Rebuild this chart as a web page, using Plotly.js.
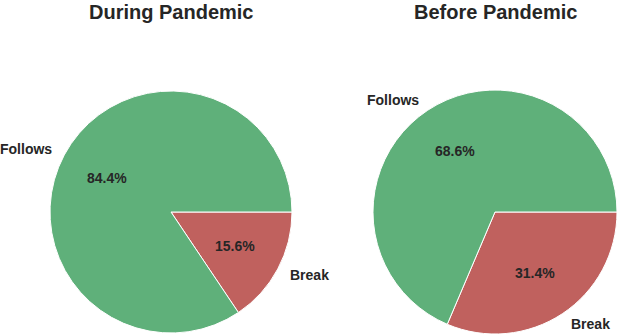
<!DOCTYPE html>
<html>
<head>
<meta charset="utf-8">
<script src="https://cdn.plot.ly/plotly-3.0.1.min.js"></script>
<style>
  html, body { margin: 0; padding: 0; background: #fff; }
  #graph { width: 618px; height: 336px; }
</style>
</head>
<body>
<div id="graph"></div>
<script>
var titles = ['During Pandemic', 'Before Pandemic'];
var labels = ['Follows', 'Break'];
var duringValues = [84.4, 15.6];
var beforeValues = [68.6, 31.4];
var colors = ['#5fb07a', '#c0615e'];

var W = 618, H = 336;
var textColor = '#262626';
var font = 'Liberation Sans, Arial, sans-serif';

// pie boxes in pixels (left, top, size)
var boxes = [
    {left: 50, top: 91, size: 242},
    {left: 373, top: 90, size: 244}
];

var data = [];
var annotations = [];
var allValues = [duringValues, beforeValues];

for (var p = 0; p < 2; p++) {
    var b = boxes[p];
    var domain = {
        x: [b.left / W, (b.left + b.size) / W],
        y: [(H - b.top - b.size) / H, (H - b.top) / H]
    };
    var vals = allValues[p];
    // matplotlib draws counterclockwise from 3 o'clock; in plotly go clockwise with reversed order
    data.push({
        type: 'pie',
        values: vals.slice().reverse(),
        labels: labels.slice().reverse(),
        sort: false,
        direction: 'clockwise',
        rotation: 90,
        textinfo: 'none',
        hoverinfo: 'label+percent',
        marker: {colors: colors.slice().reverse(), line: {color: '#ffffff', width: 1}},
        domain: domain,
        showlegend: false
    });

    var cx = b.left + b.size / 2;
    var cy = b.top + b.size / 2;
    var r = b.size / 2;
    var total = vals.reduce(function (a, c) { return a + c; }, 0);
    var start = 0;
    for (var i = 0; i < vals.length; i++) {
        var frac = vals[i] / total;
        var mid = (start + frac / 2) * 2 * Math.PI;
        start += frac;
        var dx = Math.cos(mid), dy = Math.sin(mid);
        // percent at 0.6 r
        annotations.push({
            xref: 'paper', yref: 'paper',
            x: (cx + 0.6 * r * dx) / W,
            y: (H - cy + 0.6 * r * dy) / H,
            text: '<b>' + (frac * 100).toFixed(1) + '%</b>',
            showarrow: false,
            xanchor: 'center', yanchor: 'middle',
            font: {family: font, size: 14, color: textColor}
        });
        // label at 1.1 r
        annotations.push({
            xref: 'paper', yref: 'paper',
            x: (cx + 1.1 * r * dx) / W,
            y: (H - cy + 1.1 * r * dy) / H,
            text: '<b>' + labels[i] + '</b>',
            showarrow: false,
            xanchor: dx < 0 ? 'right' : 'left', yanchor: 'middle',
            font: {family: font, size: 14, color: textColor}
        });
    }

    annotations.push({
        xref: 'paper', yref: 'paper',
        x: cx / W, y: (H - 12) / H,
        text: '<b>' + titles[p] + '</b>',
        showarrow: false,
        xanchor: 'center', yanchor: 'middle',
        font: {family: font, size: 20, color: textColor}
    });
}

var layout = {
    width: W,
    height: H,
    margin: {l: 0, r: 0, t: 0, b: 0},
    paper_bgcolor: '#ffffff',
    annotations: annotations
};

Plotly.newPlot('graph', data, layout, {displayModeBar: false, staticPlot: true});
</script>
</body>
</html>
